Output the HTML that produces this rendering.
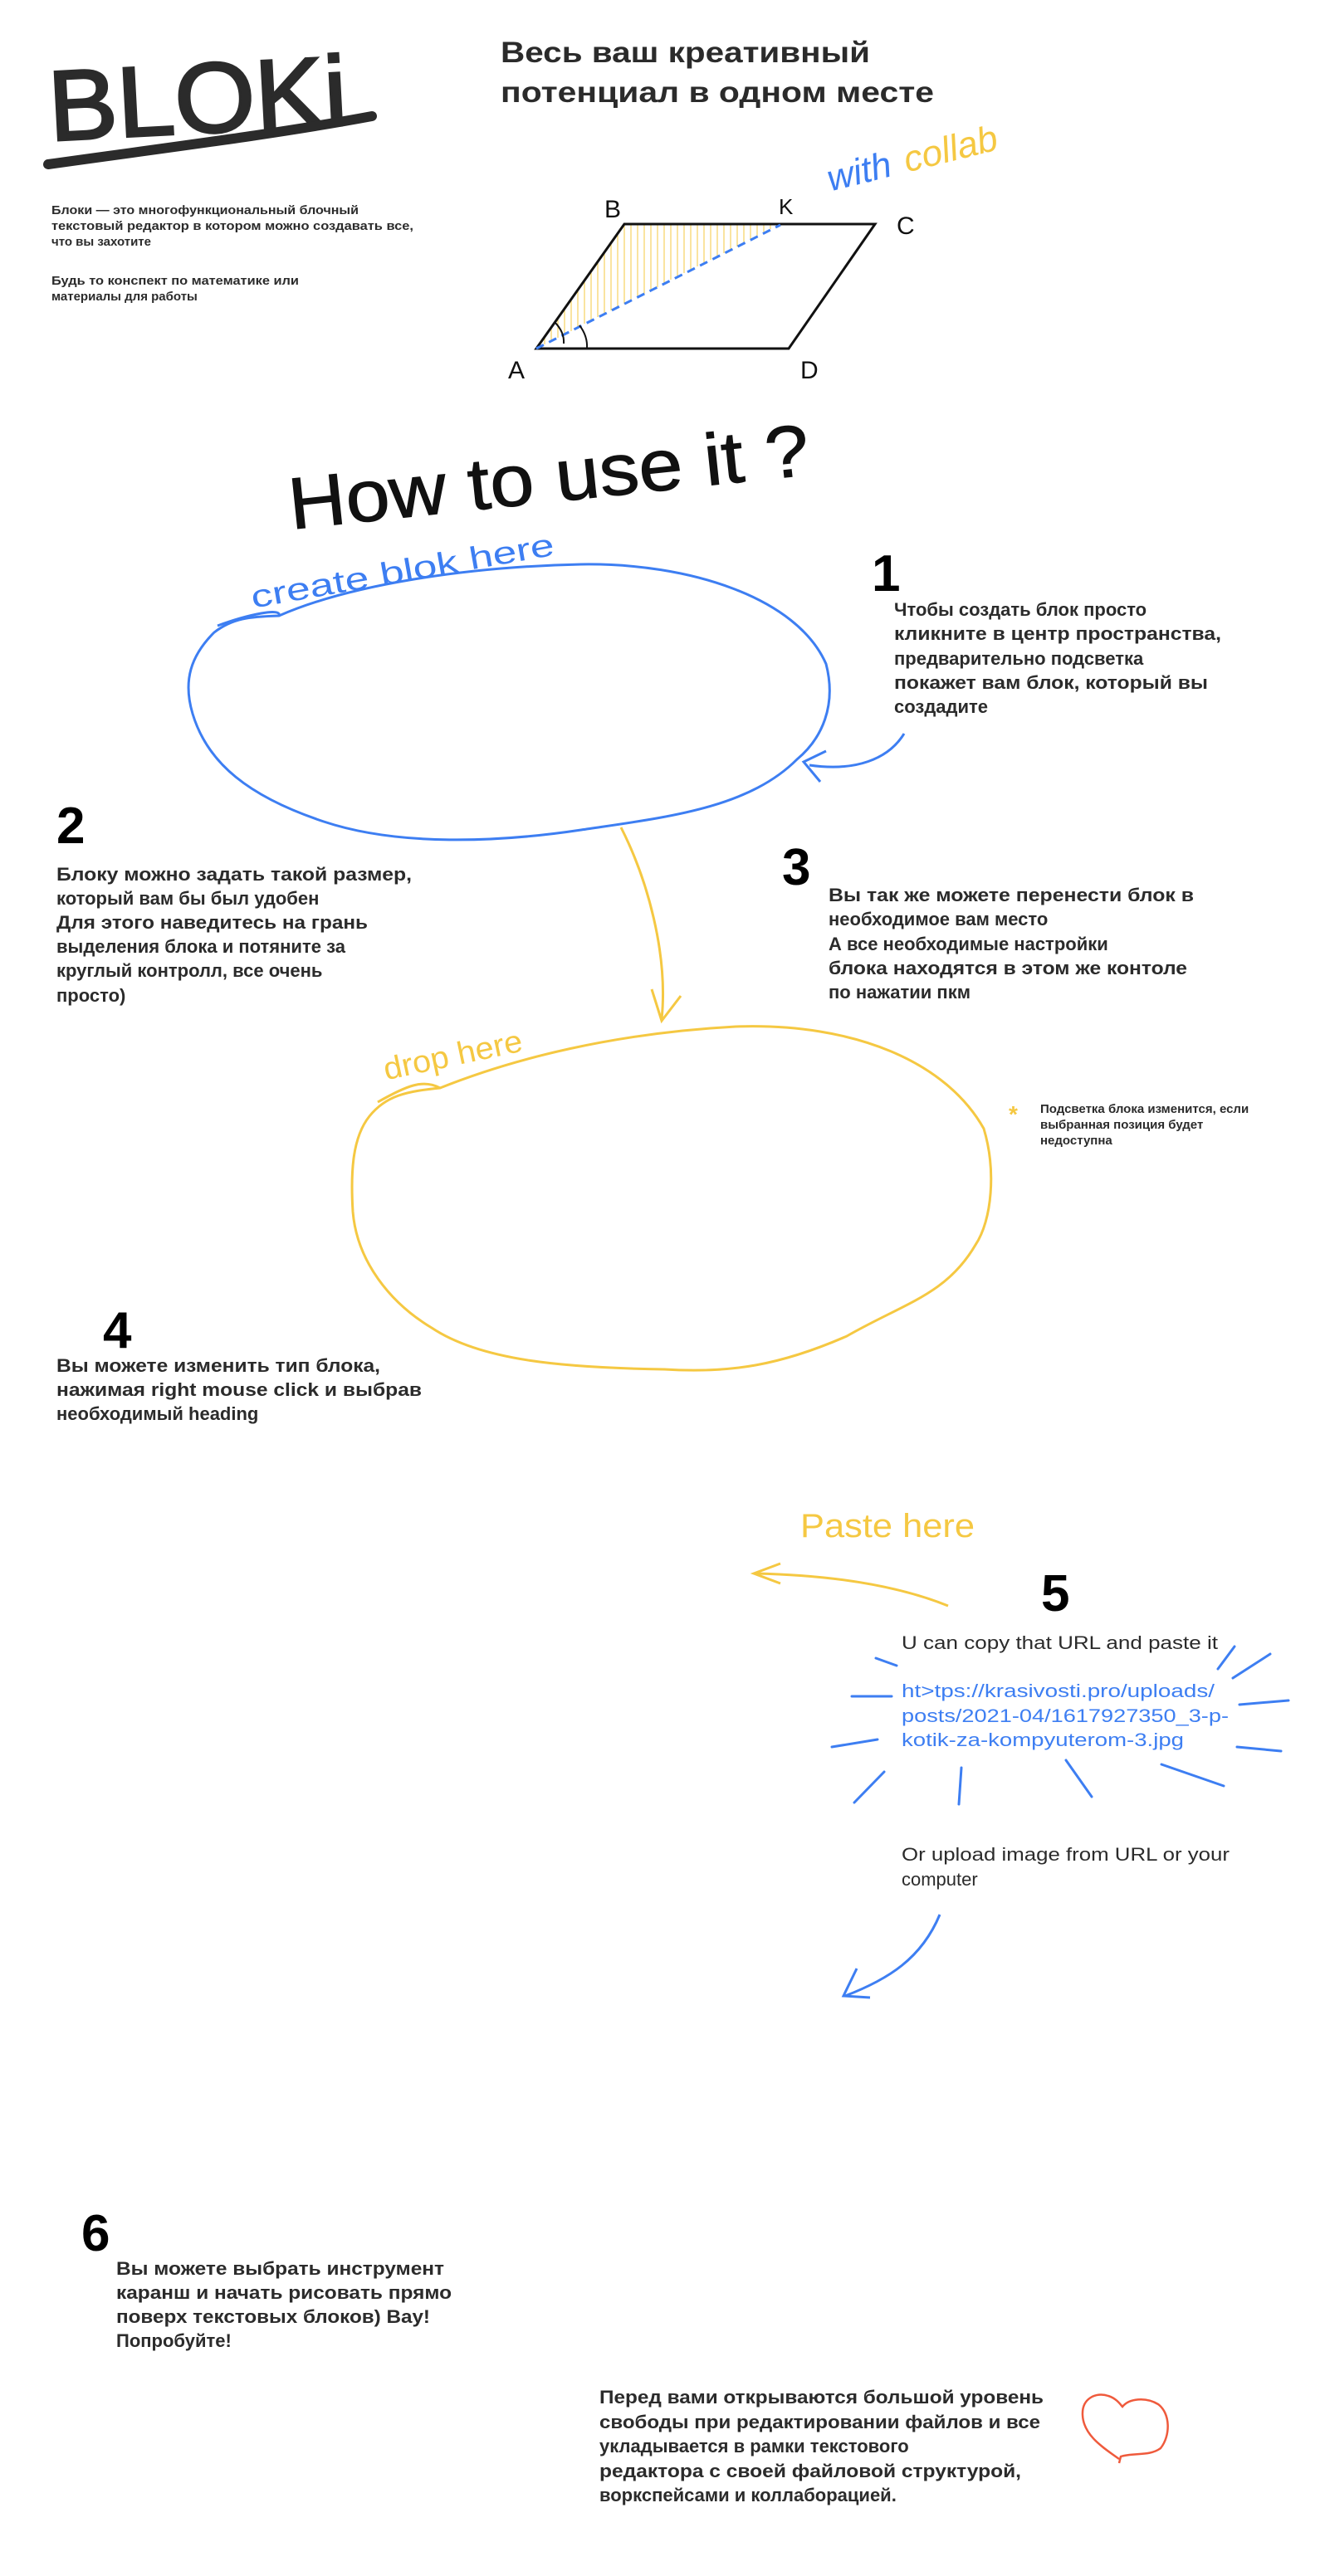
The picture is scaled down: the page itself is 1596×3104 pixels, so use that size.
<!DOCTYPE html>
<html><head><meta charset="utf-8"><style>
html,body{margin:0;padding:0;background:#fff;}
svg{display:block;}
text{font-family:"Liberation Sans",sans-serif;}
.t{fill:#2b2b2b;font-size:22px;font-weight:bold;}
.s{fill:#2b2b2b;font-size:15px;font-weight:bold;}
.num{fill:#000;font-weight:bold;font-size:62px;}
</style></head><body>
<svg width="1596" height="3104" viewBox="0 0 1596 3104" xmlns="http://www.w3.org/2000/svg">
<rect width="1596" height="3104" fill="#fff"/>

<!-- Logo -->
<text x="58" y="160" font-size="120" fill="#2b2b2b" textLength="360" lengthAdjust="spacingAndGlyphs" transform="rotate(-3 240 120)" stroke="#2b2b2b" stroke-width="3">BLOKi</text>
<path d="M58 198 C200 178 330 162 448 140" stroke="#2b2b2b" stroke-width="12" fill="none" stroke-linecap="round"/>

<!-- Title -->
<text x="603" y="75" font-size="35" font-weight="bold" fill="#2b2b2b" textLength="445" lengthAdjust="spacingAndGlyphs">Весь ваш креативный</text>
<text x="603" y="123" font-size="35" font-weight="bold" fill="#2b2b2b" textLength="522" lengthAdjust="spacingAndGlyphs">потенциал в одном месте</text>

<!-- with collab -->
<g transform="rotate(-14 1140 170)">
<text x="990" y="195" font-size="44" fill="#3d7ef2" font-style="italic">with</text>
<text x="1085" y="195" font-size="44" fill="#f5c842" font-style="italic">collab</text>
</g>

<!-- description -->
<text class="s" x="62" y="258" textLength="370" lengthAdjust="spacingAndGlyphs">Блоки — это многофункциональный блочный</text>
<text class="s" x="62" y="277" textLength="436" lengthAdjust="spacingAndGlyphs">текстовый редактор в котором можно создавать все,</text>
<text class="s" x="62" y="296">что вы захотите</text>
<text class="s" x="62" y="343" textLength="298" lengthAdjust="spacingAndGlyphs">Будь то конспект по математике или</text>
<text class="s" x="62" y="362">материалы для работы</text>

<!-- Parallelogram -->
<g stroke="#f5c842" stroke-width="1">
<line x1="656" y1="406" x2="656" y2="415"/><line x1="664" y1="394" x2="664" y2="411"/><line x1="672" y1="383" x2="672" y2="407"/><line x1="680" y1="372" x2="680" y2="403"/><line x1="688" y1="361" x2="688" y2="399"/><line x1="696" y1="349" x2="696" y2="394"/><line x1="704" y1="338" x2="704" y2="390"/><line x1="712" y1="327" x2="712" y2="386"/><line x1="720" y1="315" x2="720" y2="382"/><line x1="728" y1="304" x2="728" y2="378"/><line x1="736" y1="293" x2="736" y2="374"/><line x1="744" y1="281" x2="744" y2="370"/><line x1="752" y1="270" x2="752" y2="366"/><line x1="760" y1="270" x2="760" y2="362"/><line x1="768" y1="270" x2="768" y2="358"/><line x1="776" y1="270" x2="776" y2="354"/><line x1="784" y1="270" x2="784" y2="350"/><line x1="792" y1="270" x2="792" y2="346"/><line x1="800" y1="270" x2="800" y2="341"/><line x1="808" y1="270" x2="808" y2="337"/><line x1="816" y1="270" x2="816" y2="333"/><line x1="824" y1="270" x2="824" y2="329"/><line x1="832" y1="270" x2="832" y2="325"/><line x1="840" y1="270" x2="840" y2="321"/><line x1="848" y1="270" x2="848" y2="317"/><line x1="856" y1="270" x2="856" y2="313"/><line x1="864" y1="270" x2="864" y2="309"/><line x1="872" y1="270" x2="872" y2="305"/><line x1="880" y1="270" x2="880" y2="301"/><line x1="888" y1="270" x2="888" y2="297"/><line x1="896" y1="270" x2="896" y2="292"/><line x1="904" y1="270" x2="904" y2="288"/><line x1="912" y1="270" x2="912" y2="284"/><line x1="920" y1="270" x2="920" y2="280"/><line x1="928" y1="270" x2="928" y2="276"/>
</g>
<path d="M646 420 L752 270 L1054 270 L950 420 Z" fill="none" stroke="#111" stroke-width="3"/>
<line x1="646" y1="420" x2="940" y2="271" stroke="#3d7ef2" stroke-width="3" stroke-dasharray="10 7"/>
<path d="M668 388 Q680 400 679 414" fill="none" stroke="#111" stroke-width="2"/>
<path d="M698 392 Q708 405 707 420" fill="none" stroke="#111" stroke-width="2"/>
<text x="728" y="262" font-size="30" fill="#111">B</text>
<text x="938" y="258" font-size="26" fill="#111">K</text>
<text x="1080" y="282" font-size="30" fill="#111">C</text>
<text x="612" y="456" font-size="30" fill="#111">A</text>
<text x="964" y="456" font-size="30" fill="#111">D</text>

<!-- How to use it -->
<text x="345" y="605" font-size="88" fill="#111" textLength="630" lengthAdjust="spacingAndGlyphs" transform="rotate(-6 660 565)" stroke="#111" stroke-width="1">How to use it ?</text>

<!-- Blue ellipse -->
<path d="M336 742 C420 705 560 683 700 680 C830 678 960 720 995 800 C1008 850 990 890 960 915 C900 975 800 985 700 1000 C600 1015 480 1020 390 990 C300 960 250 920 232 860 C220 820 230 790 258 762 C280 745 300 743 336 742 Z" fill="none" stroke="#3d7ef2" stroke-width="3"/>
<path d="M262 754 C300 740 340 732 336 742" fill="none" stroke="#3d7ef2" stroke-width="3"/>
<text x="298" y="705" font-size="38" fill="#3d7ef2" transform="rotate(-10 460 680)" textLength="370" lengthAdjust="spacingAndGlyphs">create blok here</text>

<!-- 1 -->
<text class="num" x="1050" y="712">1</text>
<text class="t" x="1077" y="742">Чтобы создать блок просто</text>
<text class="t" x="1077" y="771" textLength="394" lengthAdjust="spacingAndGlyphs">кликните в центр пространства,</text>
<text class="t" x="1077" y="801">предварительно подсветка</text>
<text class="t" x="1077" y="830" textLength="378" lengthAdjust="spacingAndGlyphs">покажет вам блок, который вы</text>
<text class="t" x="1077" y="859">создадите</text>
<path d="M1089 884 C1070 915 1030 930 975 922" fill="none" stroke="#3d7ef2" stroke-width="3"/>
<path d="M995 905 L968 918 L988 942" fill="none" stroke="#3d7ef2" stroke-width="3"/>

<!-- 2 -->
<text class="num" x="68" y="1016" font-size="70">2</text>
<text class="t" x="68" y="1061" textLength="428" lengthAdjust="spacingAndGlyphs">Блоку можно задать такой размер,</text>
<text class="t" x="68" y="1090">который вам бы был удобен</text>
<text class="t" x="68" y="1119" textLength="375" lengthAdjust="spacingAndGlyphs">Для этого наведитесь на грань</text>
<text class="t" x="68" y="1148">выделения блока и потяните за</text>
<text class="t" x="68" y="1177">круглый контролл, все очень</text>
<text class="t" x="68" y="1207">просто)</text>

<!-- yellow arrow -->
<path d="M748 997 C780 1060 805 1150 797 1228" fill="none" stroke="#f5c842" stroke-width="3"/>
<path d="M785 1192 L797 1230 L820 1200" fill="none" stroke="#f5c842" stroke-width="3"/>

<!-- 3 -->
<text class="num" x="942" y="1066" font-size="66">3</text>
<text class="t" x="998" y="1086" textLength="440" lengthAdjust="spacingAndGlyphs">Вы так же можете перенести блок в</text>
<text class="t" x="998" y="1115">необходимое вам место</text>
<text class="t" x="998" y="1145">А все необходимые настройки</text>
<text class="t" x="998" y="1174" textLength="432" lengthAdjust="spacingAndGlyphs">блока находятся в этом же контоле</text>
<text class="t" x="998" y="1203">по нажатии пкм</text>

<!-- yellow ellipse -->
<path d="M530 1311 C620 1275 740 1245 886 1237 C1030 1232 1140 1280 1185 1360 C1200 1410 1195 1470 1175 1500 C1140 1560 1090 1570 1020 1610 C940 1645 880 1655 800 1650 C680 1648 580 1640 520 1600 C470 1570 430 1520 425 1460 C422 1410 425 1370 445 1345 C465 1320 490 1315 530 1311 Z" fill="none" stroke="#f5c842" stroke-width="3"/>
<path d="M455 1328 C490 1308 510 1300 530 1311" fill="none" stroke="#f5c842" stroke-width="3"/>
<text x="458" y="1285" font-size="38" fill="#f5c842" transform="rotate(-12 540 1260)" textLength="170" lengthAdjust="spacingAndGlyphs">drop here</text>

<text x="1215" y="1352" font-size="28" fill="#f5c842" font-weight="bold">*</text>
<text class="s" x="1253" y="1341">Подсветка блока изменится, если</text>
<text class="s" x="1253" y="1360">выбранная позиция будет</text>
<text class="s" x="1253" y="1379">недоступна</text>

<!-- 4 -->
<text class="num" x="124" y="1624" font-size="66">4</text>
<text class="t" x="68" y="1653" textLength="390" lengthAdjust="spacingAndGlyphs">Вы можете изменить тип блока,</text>
<text class="t" x="68" y="1682" textLength="440" lengthAdjust="spacingAndGlyphs">нажимая  right mouse click и выбрав</text>
<text class="t" x="68" y="1711">необходимый heading</text>

<!-- 5 -->
<text x="964" y="1852" font-size="40" fill="#f5c842" textLength="210" lengthAdjust="spacingAndGlyphs">Paste here</text>
<path d="M1142 1935 C1080 1910 1000 1898 910 1896" fill="none" stroke="#f5c842" stroke-width="3"/>
<path d="M940 1884 L908 1896 L940 1908" fill="none" stroke="#f5c842" stroke-width="3"/>
<text class="num" x="1254" y="1941" font-size="78">5</text>
<text x="1086" y="1987" font-size="22" fill="#2b2b2b" textLength="381" lengthAdjust="spacingAndGlyphs">U can copy that URL and paste it</text>
<g font-size="22" fill="#3d7ef2">
<text x="1086" y="2045" textLength="377" lengthAdjust="spacingAndGlyphs">ht&gt;tps://krasivosti.pro/uploads/</text>
<text x="1086" y="2075" textLength="394" lengthAdjust="spacingAndGlyphs">posts/2021-04/1617927350_3-p-</text>
<text x="1086" y="2104" textLength="340" lengthAdjust="spacingAndGlyphs">kotik-za-kompyuterom-3.jpg</text>
</g>
<g stroke="#3d7ef2" stroke-width="3" fill="none" stroke-linecap="round">
<line x1="1055" y1="1998" x2="1080" y2="2007"/>
<line x1="1026" y1="2044" x2="1074" y2="2044"/>
<line x1="1002" y1="2105" x2="1057" y2="2096"/>
<line x1="1029" y1="2172" x2="1065" y2="2135"/>
<line x1="1155" y1="2174" x2="1158" y2="2130"/>
<line x1="1284" y1="2121" x2="1315" y2="2165"/>
<line x1="1399" y1="2126" x2="1474" y2="2152"/>
<line x1="1490" y1="2105" x2="1543" y2="2110"/>
<line x1="1493" y1="2054" x2="1552" y2="2049"/>
<line x1="1485" y1="2022" x2="1530" y2="1993"/>
<line x1="1467" y1="2011" x2="1487" y2="1984"/>
</g>
<text x="1086" y="2242" font-size="22" fill="#2b2b2b" textLength="395" lengthAdjust="spacingAndGlyphs">Or upload image from URL or your</text>
<text x="1086" y="2272" font-size="22" fill="#2b2b2b">computer</text>
<path d="M1132 2307 C1110 2360 1070 2385 1018 2405" fill="none" stroke="#3d7ef2" stroke-width="3"/>
<path d="M1032 2372 L1016 2405 L1048 2407" fill="none" stroke="#3d7ef2" stroke-width="3"/>

<!-- 6 -->
<text class="num" x="98" y="2712" font-size="58">6</text>
<text class="t" x="140" y="2741" textLength="395" lengthAdjust="spacingAndGlyphs">Вы можете выбрать инструмент</text>
<text class="t" x="140" y="2770" textLength="404" lengthAdjust="spacingAndGlyphs">каранш и начать рисовать прямо</text>
<text class="t" x="140" y="2799" textLength="378" lengthAdjust="spacingAndGlyphs">поверх текстовых блоков) Вау!</text>
<text class="t" x="140" y="2828">Попробуйте!</text>

<text class="t" x="722" y="2896" textLength="535" lengthAdjust="spacingAndGlyphs">Перед вами открываются большой уровень</text>
<text class="t" x="722" y="2926" textLength="531" lengthAdjust="spacingAndGlyphs">свободы при редактировании файлов и все</text>
<text class="t" x="722" y="2955">укладывается в рамки текстового</text>
<text class="t" x="722" y="2985" textLength="508" lengthAdjust="spacingAndGlyphs">редактора с своей файловой структурой,</text>
<text class="t" x="722" y="3014">воркспейсами и коллаборацией.</text>

<path d="M1348 2963 C1330 2950 1305 2935 1304 2910 C1303 2890 1320 2882 1335 2887 C1345 2890 1350 2898 1352 2900 C1360 2890 1380 2888 1395 2897 C1410 2908 1410 2935 1398 2950 C1385 2960 1365 2955 1350 2960 L1348 2968" fill="none" stroke="#ef5a3c" stroke-width="2.5"/>
</svg>
</body></html>
